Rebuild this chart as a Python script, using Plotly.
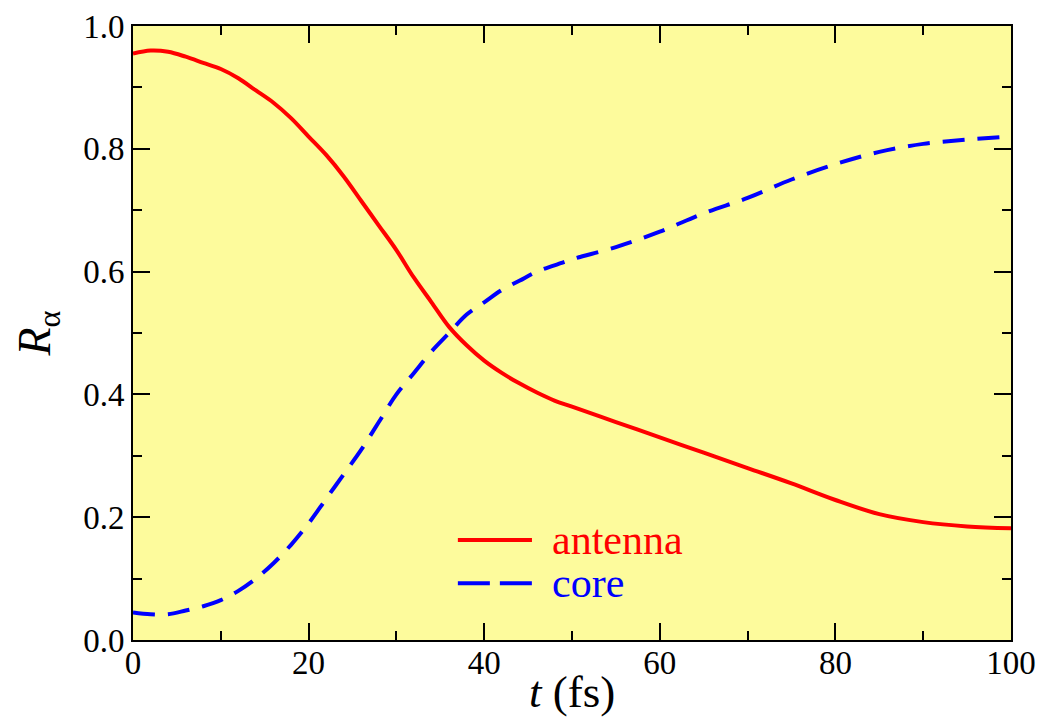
import plotly.graph_objects as go

t = [0, 2, 4, 6, 8, 10, 12, 14, 16, 18, 20, 22, 24, 26, 28, 30, 32, 34, 36, 38, 40,
     42, 44, 46, 48, 50, 55, 60, 65, 70, 75, 80, 85, 90, 95, 100]
antenna = [0.955, 0.96, 0.958, 0.95, 0.94, 0.93, 0.915, 0.895, 0.875, 0.85, 0.82, 0.79,
           0.755, 0.715, 0.675, 0.635, 0.59, 0.55, 0.51, 0.48, 0.455, 0.435, 0.418, 0.403,
           0.39, 0.38, 0.355, 0.33, 0.305, 0.28, 0.255, 0.228, 0.205, 0.192, 0.185, 0.182]
core = [0.045, 0.042, 0.042, 0.048, 0.055, 0.065, 0.08, 0.1, 0.125, 0.155, 0.19, 0.23,
        0.27, 0.31, 0.355, 0.4, 0.435, 0.47, 0.5, 0.53, 0.55, 0.57, 0.585, 0.6, 0.61,
        0.62, 0.64, 0.665, 0.695, 0.72, 0.75, 0.775, 0.795, 0.808, 0.815, 0.82]

series_names = ["antenna", "core"]
series_colors = ["#ff0000", "#0000ff"]

xticks = [0, 20, 40, 60, 80, 100]
yticks = [0.0, 0.2, 0.4, 0.6, 0.8, 1.0]
ytext = ["0.0", "0.2", "0.4", "0.6", "0.8", "1.0"]

FONT = "Liberation Serif, Times New Roman, serif"
DASH = "22px,13px"

fig = go.Figure()
fig.add_trace(go.Scatter(x=t, y=antenna, mode="lines", name=series_names[0], showlegend=False,
                         line=dict(color=series_colors[0], width=4, shape="spline")))
fig.add_trace(go.Scatter(x=t, y=core, mode="lines", name=series_names[1], showlegend=False,
                         line=dict(color=series_colors[1], width=4, dash=DASH, shape="spline")))

axis_common = dict(showgrid=False, zeroline=False, showline=True, linecolor="black", linewidth=2,
                   mirror="ticks", ticks="inside", ticklen=17, tickwidth=2, tickcolor="black",
                   automargin=False,
                   tickfont=dict(family=FONT, size=33, color="black"))

fig.update_xaxes(range=[0, 100], tickvals=xticks, ticktext=[str(v) for v in xticks],
                 ticklabelstandoff=-8,
                 minor=dict(ticks="inside", ticklen=9, tickwidth=2, tickcolor="black", dtick=10, tick0=0),
                 **axis_common)
fig.update_yaxes(range=[0, 1], tickvals=yticks, ticktext=ytext,
                 minor=dict(ticks="inside", ticklen=9, tickwidth=2, tickcolor="black", dtick=0.1, tick0=0),
                 title=dict(text="<i>R</i><sub>α</sub>", font=dict(family=FONT, size=46, color="black"), standoff=18),
                 **axis_common)

# x-axis title
fig.add_annotation(xref="paper", yref="paper", x=0.5, y=-0.0847, xanchor="center", yanchor="middle",
                   text="<i>t</i> (fs)", showarrow=False, font=dict(family=FONT, size=45, color="black"))

# Custom legend (Grace-style: long line sample, coloured text)
leg_x0, leg_x1, leg_tx = 0.370, 0.4544, 0.475
leg_y = [0.163, 0.0925]
for i, (nm, col) in enumerate(zip(series_names, series_colors)):
    fig.add_shape(type="line", xref="paper", yref="paper", x0=leg_x0, x1=leg_x1, y0=leg_y[i], y1=leg_y[i],
                  line=dict(color=col, width=4, dash=None if i == 0 else "32px,10px"))
    fig.add_annotation(xref="paper", yref="paper", x=leg_tx, y=leg_y[i], xanchor="left", yanchor="middle",
                       text=nm, showarrow=False, font=dict(family=FONT, size=42, color=col))

fig.update_layout(
    width=1040, height=724,
    margin=dict(l=133, r=29, t=26, b=84),
    paper_bgcolor="white",
    plot_bgcolor="#fdfb9c",
    font=dict(family=FONT, color="black"),
    showlegend=False,
)

fig.write_html("out.html")
